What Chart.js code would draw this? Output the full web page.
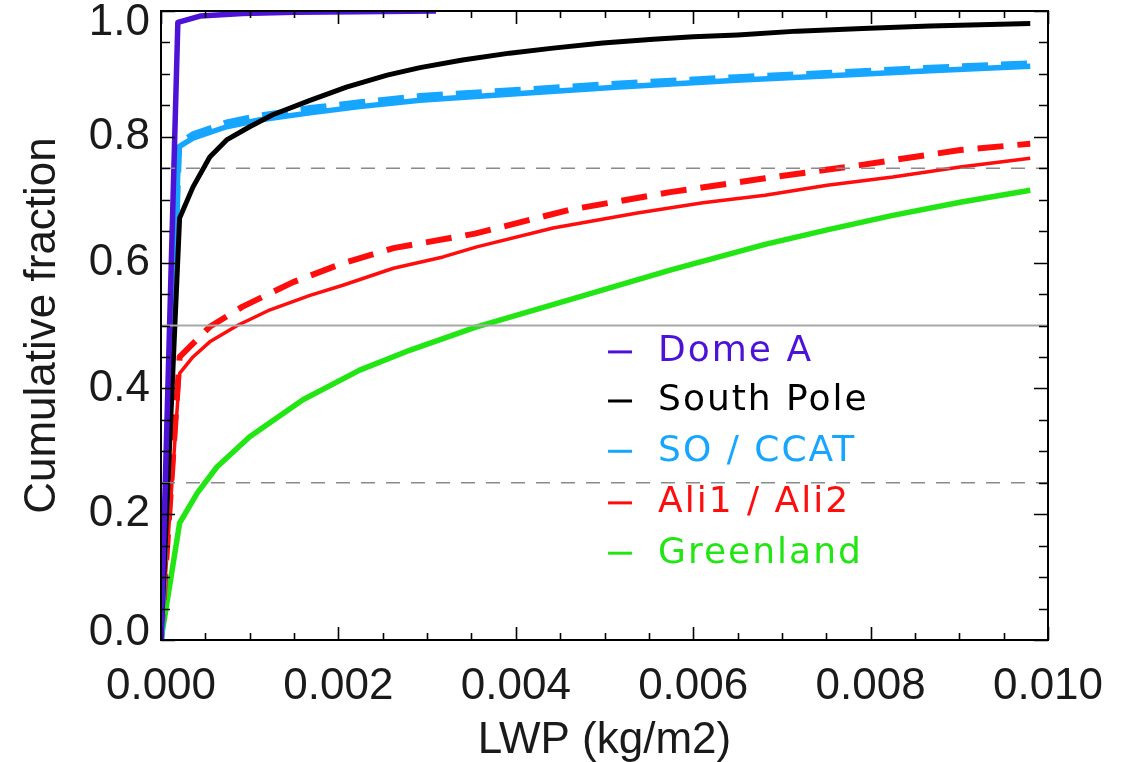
<!DOCTYPE html>
<html><head><meta charset="utf-8">
<script src="https://cdn.jsdelivr.net/npm/chart.js@4.4.1/dist/chart.umd.min.js"></script>
<style>html,body{margin:0;padding:0;background:#fff;}#wrap{width:1134px;height:762px;}</style>
</head><body><div id="wrap"><canvas id="c" width="1134" height="762"></canvas></div>
<script>
// ---- data (LWP in kg/m2, cumulative fraction) ----
const domeA_lwp = [0, 0.00019, 0.00044, 0.00092, 0.0015, 0.0022, 0.0031];
const domeA_frac = [0, 0.982, 0.992, 0.996, 0.998, 0.999, 1.0];

const southPole_lwp = [0, 0.00021, 0.00036, 0.00055, 0.00074, 0.0010, 0.00126, 0.00168, 0.00209, 0.00255, 0.00292, 0.0034, 0.00393, 0.00442, 0.00498, 0.00555, 0.0060, 0.0065, 0.00717, 0.00791, 0.00867, 0.0098];
const southPole_frac = [0, 0.671, 0.720, 0.768, 0.795, 0.816, 0.835, 0.858, 0.879, 0.898, 0.910, 0.922, 0.933, 0.941, 0.949, 0.955, 0.959, 0.962, 0.968, 0.972, 0.976, 0.980];

const so_lwp = [0, 0.0002, 0.00036, 0.00074, 0.00112, 0.00168, 0.00224, 0.00292, 0.00405, 0.00517, 0.00649, 0.00754, 0.00867, 0.0098];
const so_frac = [0, 0.784, 0.798, 0.816, 0.827, 0.838, 0.848, 0.858, 0.869, 0.879, 0.890, 0.897, 0.905, 0.912];
const ccat_lwp = [0, 0.0002, 0.00036, 0.00074, 0.00112, 0.00168, 0.00224, 0.00292, 0.00405, 0.00517, 0.00649, 0.00754, 0.00867, 0.0098];
const ccat_frac = [0, 0.788, 0.803, 0.822, 0.833, 0.845, 0.854, 0.864, 0.874, 0.884, 0.894, 0.901, 0.909, 0.916];

const ali1_lwp = [0, 0.00021, 0.00036, 0.00055, 0.00086, 0.00123, 0.00168, 0.00205, 0.00262, 0.00318, 0.00356, 0.00442, 0.00537, 0.00611, 0.00681, 0.00751, 0.00825, 0.00901, 0.0098];
const ali1_frac = [0, 0.424, 0.450, 0.474, 0.500, 0.525, 0.548, 0.564, 0.591, 0.609, 0.625, 0.655, 0.679, 0.695, 0.707, 0.723, 0.736, 0.752, 0.766];
const ali2_lwp = [0, 0.00021, 0.00055, 0.00092, 0.00149, 0.00205, 0.00262, 0.00354, 0.00461, 0.00574, 0.00681, 0.00788, 0.00901, 0.0098];
const ali2_frac = [0, 0.450, 0.498, 0.530, 0.569, 0.599, 0.623, 0.646, 0.684, 0.712, 0.734, 0.755, 0.779, 0.789];

const greenland_lwp = [0, 0.00021, 0.00041, 0.00063, 0.0010, 0.0016, 0.00224, 0.00281, 0.00354, 0.00461, 0.00574, 0.00681, 0.00751, 0.00825, 0.00901, 0.0098];
const greenland_frac = [0, 0.186, 0.234, 0.275, 0.323, 0.382, 0.429, 0.461, 0.497, 0.541, 0.588, 0.629, 0.652, 0.675, 0.696, 0.715];

const refLevels = [0.25, 0.5, 0.75];
const xTickValues = [0, 0.002, 0.004, 0.006, 0.008, 0.010];
const yTickValues = [0, 0.2, 0.4, 0.6, 0.8, 1.0];
const yTickLabels = ['0.0', '0.2', '0.4', '0.6', '0.8', '1.0'];
const legendLabels = ['Dome A', 'South Pole', 'SO / CCAT', 'Ali1 / Ali2', 'Greenland'];
const legendRowsY = [0.458, 0.380, 0.300, 0.218, 0.138];

const C_PURPLE = '#4c12d6', C_BLACK = '#000000', C_BLUE = '#16a6ff', C_RED = '#ff0c0c', C_GREEN = '#22e614';
const legendColors = [C_PURPLE, C_BLACK, C_BLUE, C_RED, C_GREEN];

const pts = (xs, ys) => xs.map((x, i) => ({x: x, y: ys[i]}));
const line = (label, xs, ys, color, width, dash) => ({
  label, data: pts(xs, ys), borderColor: color, backgroundColor: color,
  borderWidth: width, borderDash: dash || [], pointRadius: 0, tension: 0, fill: false,
  borderCapStyle: 'butt', borderJoinStyle: 'round'
});

const refSets = refLevels.map(v => ({
  label: 'ref' + v, data: [{x: 0, y: v}, {x: 0.01, y: v}],
  borderColor: v === 0.5 ? '#a8a8a8' : '#8a8a8a', borderWidth: v === 0.5 ? 2 : 1.5,
  borderDash: v === 0.5 ? [] : [14, 11], pointRadius: 0, tension: 0, fill: false
}));

const datasets = [
  ...refSets,
  line('Dome A', domeA_lwp, domeA_frac, C_PURPLE, 5.5),
  line('South Pole', southPole_lwp, southPole_frac, C_BLACK, 5),
  line('CCAT', ccat_lwp, ccat_frac, C_BLUE, 7, [26, 13]),
  line('SO', so_lwp, so_frac, C_BLUE, 5.5),
  line('Ali2', ali2_lwp, ali2_frac, C_RED, 6, [26, 14]),
  line('Ali1', ali1_lwp, ali1_frac, C_RED, 3.5),
  line('Greenland', greenland_lwp, greenland_frac, C_GREEN, 5.5),
];

const FONT_FAMILY = '"Liberation Sans", Arial, sans-serif';
const TICK_FONT = {family: FONT_FAMILY, size: 44};

const framePlugin = {
  id: 'frameTicks',
  afterDraw(chart) {
    const {ctx, chartArea: a, scales: {x, y}} = chart;
    ctx.save();
    ctx.strokeStyle = '#000'; ctx.lineWidth = 2;
    ctx.strokeRect(a.left, a.top, a.right - a.left, a.bottom - a.top);
    ctx.lineWidth = 1.6;
    ctx.beginPath();
    const xStep = (xTickValues[1] - xTickValues[0]) / 4;
    for (let i = 0; i <= Math.round((x.max - x.min) / xStep); i++) {
      const v = x.min + i * xStep;
      const p = Math.round(x.getPixelForValue(v)) + 0.5;
      const len = (i % 4 === 0) ? 13 : 7;
      ctx.moveTo(p, a.bottom); ctx.lineTo(p, a.bottom - len);
      ctx.moveTo(p, a.top); ctx.lineTo(p, a.top + len);
    }
    const yStep = (yTickValues[1] - yTickValues[0]) / 4;
    for (let i = 0; i <= Math.round((y.max - y.min) / yStep); i++) {
      const v = y.min + i * yStep;
      const p = Math.round(y.getPixelForValue(v)) + 0.5;
      const len = (i % 4 === 0) ? 14 : 9;
      ctx.moveTo(a.left, p); ctx.lineTo(a.left + len, p);
      ctx.moveTo(a.right, p); ctx.lineTo(a.right - len, p);
    }
    ctx.stroke();

    // y tick labels (kept inside the frame's vertical extent, as in the original)
    ctx.font = '44px ' + FONT_FAMILY;
    ctx.fillStyle = '#1a1a1a';
    ctx.textAlign = 'right'; ctx.textBaseline = 'middle';
    yTickValues.forEach((v, i) => {
      let py = y.getPixelForValue(v);
      if (i === 0) py -= 7;
      if (i === yTickValues.length - 1) py += 12;
      ctx.fillText(yTickLabels[i], a.left - 11, py);
    });

    // legend
    ctx.textAlign = 'left';
    ctx.font = '36px "DejaVu Sans", sans-serif';
    try { ctx.letterSpacing = '2px'; } catch (e) {}
    ctx.textBaseline = 'middle';
    const lx = x.getPixelForValue(0.00504);
    legendLabels.forEach((t, i) => {
      const py = y.getPixelForValue(legendRowsY[i]);
      ctx.strokeStyle = legendColors[i]; ctx.lineWidth = 3;
      ctx.beginPath(); ctx.moveTo(lx, py); ctx.lineTo(lx + 24, py); ctx.stroke();
      ctx.fillStyle = legendColors[i];
      ctx.fillText(t, lx + 50, py);
    });
    ctx.restore();
  }
};

new Chart(document.getElementById('c'), {
  type: 'line',
  data: {datasets},
  options: {
    responsive: false, animation: false, devicePixelRatio: 1,
    layout: {padding: {left: 0, right: 86, top: 11, bottom: 0}},
    plugins: {legend: {display: false}, tooltip: {enabled: false}},
    scales: {
      x: {
        type: 'linear', min: 0, max: 0.01,
        afterBuildTicks: s => { s.ticks = xTickValues.map(v => ({value: v})); },
        afterFit: s => { s.height = 122; s.paddingLeft = 0; s.paddingRight = 0; },
        ticks: {callback: v => v.toFixed(3), font: TICK_FONT, color: '#1a1a1a', padding: 12, maxRotation: 0, autoSkip: false},
        grid: {display: false}, border: {display: false},
        title: {display: true, text: 'LWP (kg/m2)', font: TICK_FONT, color: '#1a1a1a', padding: {top: 0, bottom: -5}}
      },
      y: {
        type: 'linear', min: 0, max: 1.0,
        afterBuildTicks: s => { s.ticks = yTickValues.map(v => ({value: v})); },
        afterFit: s => { s.width = 161; s.paddingTop = 0; s.paddingBottom = 0; },
        ticks: {display: false},
        grid: {display: false}, border: {display: false},
        title: {display: true, text: 'Cumulative fraction', font: TICK_FONT, color: '#1a1a1a', padding: {top: 16, bottom: 0}}
      }
    }
  },
  plugins: [framePlugin]
});
</script></body></html>
